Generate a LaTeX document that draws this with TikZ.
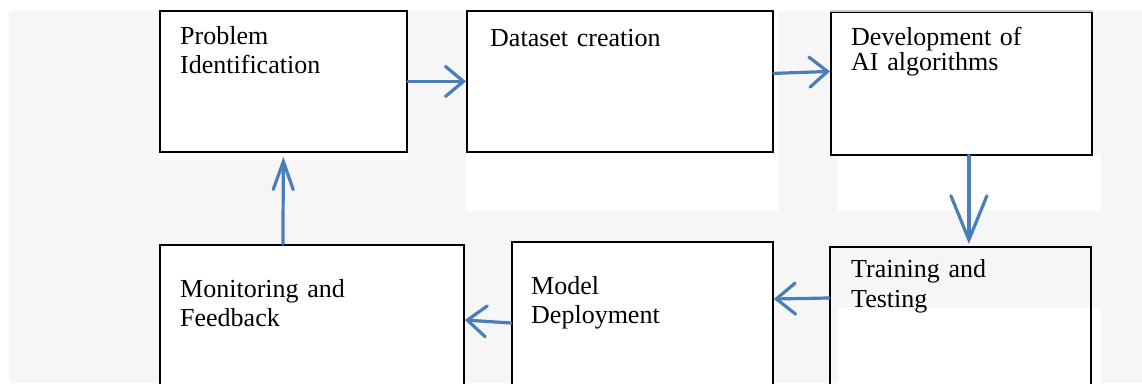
\documentclass[tikz,border=0pt]{standalone}
\usepackage{fontspec}
\setmainfont{Liberation Serif}
\usetikzlibrary{arrows.meta}
\definecolor{bggray}{HTML}{F6F6F6}
\definecolor{arrowblue}{HTML}{4A7EBB}
\tikzset{
  stagebox/.style={draw=black, line width=1.8pt, fill=white, inner sep=0pt, anchor=north west, rectangle},
  stagetext/.style={anchor=base west, inner sep=0pt, text width=240pt, align=left, font=\fontsize{26}{29.5}\selectfont},
  flow/.style={draw=arrowblue, line width=3.2pt, line cap=round},
  patch/.style={fill=white, draw=none}
}
\begin{document}
\begin{tikzpicture}[x=1pt,y=-1pt]
\useasboundingbox (0,0) rectangle (1142,383);
\clip (0,0) rectangle (1142,383);
% background and white patches
\fill[bggray] (9,11) rectangle (1142,383);
\path[patch] (159,10) rectangle (408,160);
\path[patch] (466,10) rectangle (778,211);
\path[patch] (838,154) rectangle (1101,211);
\path[patch] (838,308) rectangle (1101,383);
% boxes
\node[stagebox, minimum width=247pt, minimum height=141pt] (b1) at (159,10) {};
\node[stagebox, minimum width=306pt, minimum height=141pt] (b2) at (466,10) {};
\node[stagebox, minimum width=261pt, minimum height=143pt] (b3) at (830,11) {};
\node[stagebox, minimum width=304pt, minimum height=150pt] (b4) at (159,244) {};
\node[stagebox, minimum width=261pt, minimum height=150pt] (b5) at (511,241) {};
\node[stagebox, fill=none, minimum width=261pt, minimum height=150pt] (b6) at (829,246) {};
\draw[gray!45, line width=1.8pt] (b3.north west) -- (b3.north east);
% texts
\node[stagetext] (t1) at (180,44) {Problem\\Identification};
\node[stagetext] (t2) at (490,46) {Dataset creation};
\node[stagetext, font=\fontsize{26}{25.5}\selectfont] (t3) at (851,45) {Development of\\AI algorithms};
\node[stagetext] (t4) at (180,297) {Monitoring and\\Feedback};
\node[stagetext] (t5) at (531,294) {Model\\Deployment};
\node[stagetext, font=\fontsize{26}{30}\selectfont] (t6) at (851,277) {Training and\\Testing};
% connectors
\draw[flow, -{Straight Barb[length=18pt,width=30pt,line cap=round]}] (b1) -- (b2);
\draw[flow, -{Straight Barb[length=18pt,width=30pt,line cap=round]}] ([yshift=8pt]b2.east) -- ([yshift=12pt]b3.west);
\draw[flow, -{Straight Barb[length=44pt,width=36pt,line cap=round]}] ([xshift=7.5pt]b3.south) -- ([xshift=8.5pt,yshift=2pt]b6.north);
\draw[flow, -{Straight Barb[length=19pt,width=31pt,line cap=round]}] ([yshift=-52pt]b6.north west) -- ([yshift=-58pt]b5.north east);
\draw[flow, -{Straight Barb[length=19pt,width=31pt,line cap=round]}] ([yshift=-82pt]b5.north west) -- ([yshift=-76pt]b4.north east);
\draw[flow, -{Straight Barb[length=28pt,width=20pt,line cap=round]}] ([xshift=-29pt]b4.north) -- ([yshift=-4pt]b1.south);
\end{tikzpicture}
\end{document}
